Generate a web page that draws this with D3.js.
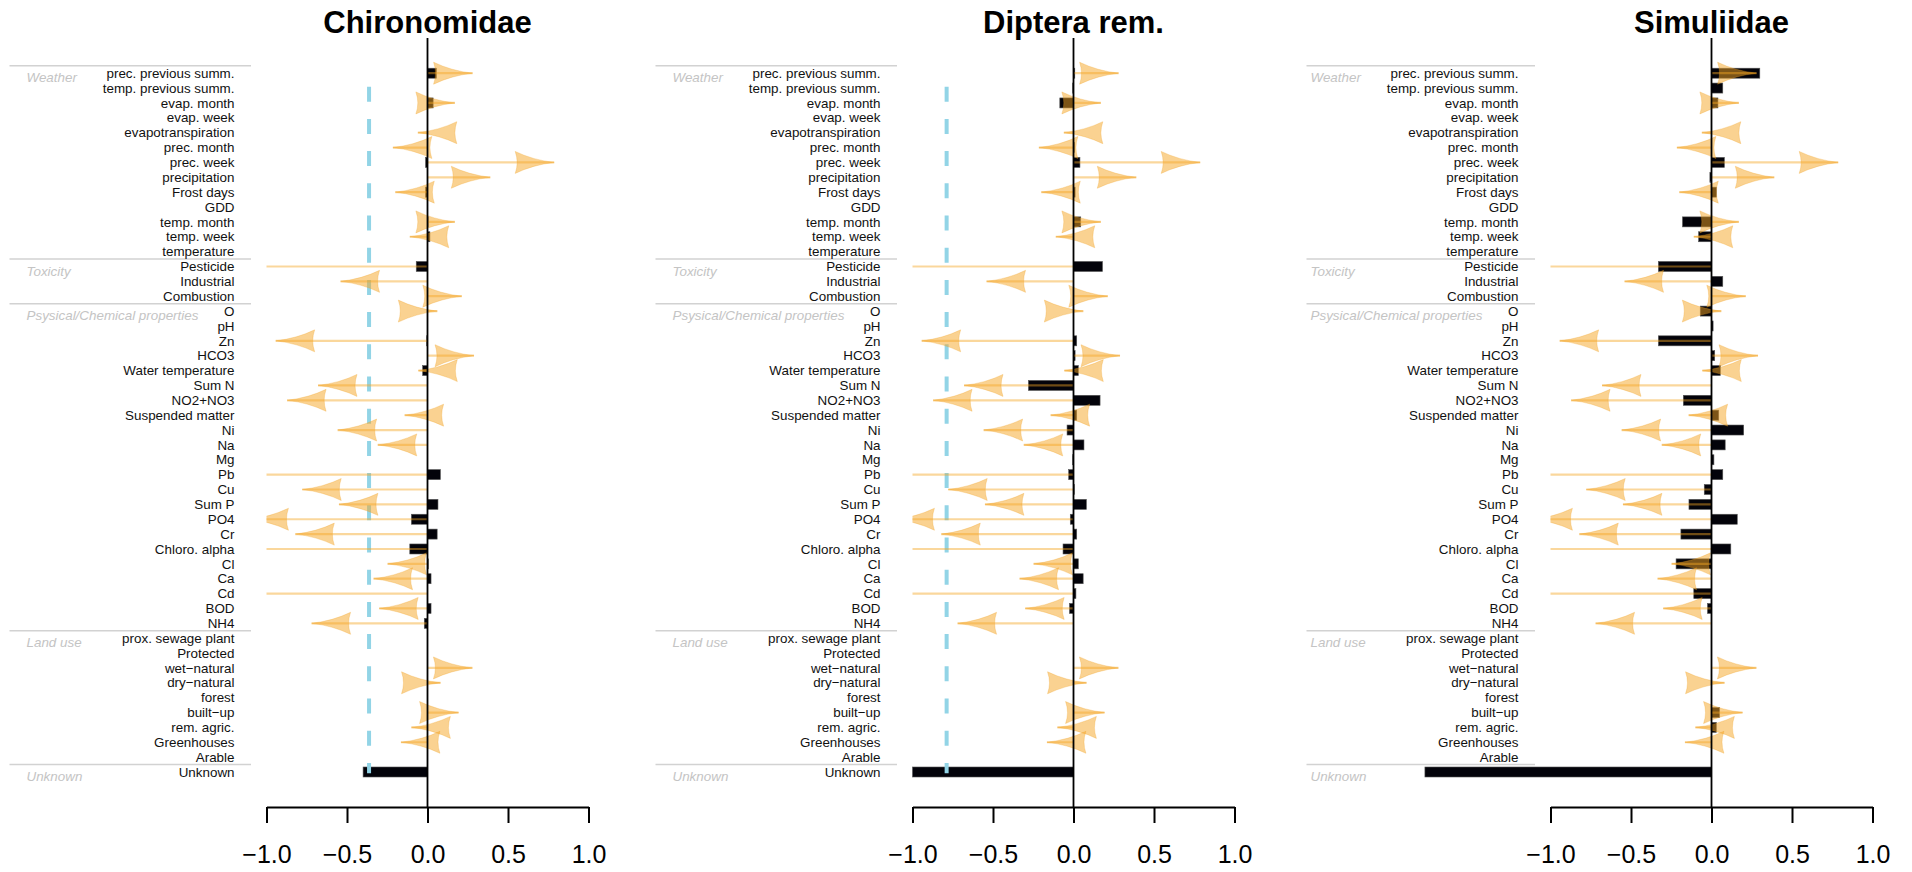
<!DOCTYPE html>
<html>
<head>
<meta charset="utf-8">
<script src="https://cdn.jsdelivr.net/npm/d3@7"></script>
<style>
  body { margin: 0; background: #fff; }
  svg { display: block; font-family: "Liberation Sans", Arial, sans-serif; }
</style>
</head>
<body>
<script>
const width = 1912
const height = 872

// row labels, top to bottom
const rowLabels = [
  "prec. previous summ.", "temp. previous summ.", "evap. month", "evap. week", "evapotranspiration",
  "prec. month", "prec. week", "precipitation", "Frost days", "GDD", "temp. month", "temp. week", "temperature",
  "Pesticide", "Industrial", "Combustion",
  "O", "pH", "Zn", "HCO3", "Water temperature", "Sum N", "NO2+NO3", "Suspended matter", "Ni", "Na", "Mg",
  "Pb", "Cu", "Sum P", "PO4", "Cr", "Chloro. alpha", "Cl", "Ca", "Cd", "BOD", "NH4",
  "prox. sewage plant", "Protected", "wet\u2212natural", "dry\u2212natural", "forest", "built\u2212up",
  "rem. agric.", "Greenhouses", "Arable",
  "Unknown"
]
const groupNames = ["Weather", "Toxicity", "Psysical/Chemical properties", "Land use", "Unknown"]
const groupStarts = [0, 13, 16, 38, 47]

// orange arrows (same in every panel), null = no arrow
const arrowValues = [
  0.28, null, 0.17, null, -0.06, -0.215, 0.787, 0.39, -0.2, null, 0.17, -0.11, null,
  -1.5, -0.54, 0.213,
  0.061, null, -0.943, 0.289, -0.057, -0.68, -0.872, -0.142, -0.558, -0.309, null,
  -1.5, -0.778, -0.55, -1.106, -0.821, -1.5, -0.248, -0.335, -1.5, -0.30, -0.72,
  null, null, 0.279, 0.081, null, 0.193, -0.10, -0.165, null,
  null
]

const taxa = ["Chironomidae", "Diptera rem.", "Simuliidae"]
const chironomidae = [
  0.055, 0, 0.035, 0, 0, 0, -0.012, 0, -0.012, 0, 0.004, 0.015, 0,
  -0.07, 0, 0,
  0, 0, -0.005, 0, -0.03, 0, 0, 0, 0, 0, 0,
  0.08, 0, 0.065, -0.10, 0.06, -0.11, 0.005, 0.022, 0, 0.022, -0.02,
  0, 0, 0, 0, 0, 0, 0, 0, 0,
  -0.40
]
const dipteraRem = [
  0.008, -0.005, -0.085, 0, 0, 0.005, 0.04, 0, 0.01, 0, 0.045, 0, 0,
  0.18, 0, 0,
  0, 0, 0.02, 0.01, 0.03, -0.28, 0.165, 0.02, -0.04, 0.065, -0.005,
  -0.03, 0.005, 0.08, -0.02, 0.02, -0.065, 0.03, 0.06, 0.015, -0.025, 0,
  0, 0, 0, 0, 0, 0, 0, 0, 0,
  -1.0
]
const simuliidae = [
  0.30, 0.07, 0.04, 0, 0, 0, 0.08, -0.01, 0.03, 0, -0.18, -0.08, 0,
  -0.33, 0.07, 0,
  -0.07, 0.01, -0.33, 0.02, 0.055, 0, -0.175, 0.045, 0.20, 0.085, 0.015,
  0.07, -0.045, -0.14, 0.16, -0.19, 0.12, -0.22, 0, -0.11, -0.025, 0,
  0, 0, 0, 0, 0, 0.05, 0.03, 0, 0,
  -1.78
]
const thresholds = [-0.363, -0.788, null]
const xTicks = [-1, -0.5, 0, 0.5, 1]

const series = [chironomidae, dipteraRem, simuliidae]

// layout
const zeroX = [427.5, 1073.5, 1711.5]
const unit = 161
const sepLeft = [-418, -418, -405]
const rowTop = 73.2, rowBottom = 772
const axisY = 807
const headLen = 39, headHalf = 11

const y = d3.scalePoint().domain(rowLabels).range([rowTop, rowBottom])
const step = y.step()

const svg = d3.select("body").append("svg")
    .attr("viewBox", [0, 0, width, height])
    .attr("width", width)
    .attr("height", height)

function headPath(tip, dir, cy) {
  const b = tip - dir * headLen
  return `M${tip},${cy}` +
    `Q${tip - dir * headLen * 0.55},${cy - headHalf * 0.22} ${b},${cy - headHalf}` +
    `Q${tip - dir * headLen * 0.9},${cy} ${b},${cy + headHalf}` +
    `Q${tip - dir * headLen * 0.55},${cy + headHalf * 0.22} ${tip},${cy}Z`
}

taxa.forEach((name, p) => {
  const x0 = zeroX[p]
  const x = d3.scaleLinear().domain([-1, 1]).range([x0 - unit, x0 + unit])
  const values = series[p]
  const g = svg.append("g")

  // title
  g.append("text")
      .attr("x", x(0))
      .attr("y", 33)
      .attr("text-anchor", "middle")
      .attr("font-size", 31)
      .attr("font-weight", "bold")
      .text(name)

  // group separators and names
  g.append("g").selectAll("line")
    .data(groupStarts)
    .join("line")
      .attr("x1", x0 + sepLeft[p])
      .attr("x2", x0 - 176.5)
      .attr("y1", i => y(rowLabels[i]) - step / 2)
      .attr("y2", i => y(rowLabels[i]) - step / 2)
      .attr("stroke", "#d2d2d2")
      .attr("stroke-width", 1.5)

  g.append("g").selectAll("text")
    .data(groupStarts)
    .join("text")
      .attr("x", x0 - 401)
      .attr("y", i => y(rowLabels[i]) + 4.6)
      .attr("dy", "0.35em")
      .attr("font-size", 13.4)
      .attr("font-style", "italic")
      .attr("fill", "#c4c4c4")
      .text((d, i) => groupNames[i])

  // row labels
  g.append("g").selectAll("text")
    .data(rowLabels)
    .join("text")
      .attr("x", x0 - 193)
      .attr("y", d => y(d))
      .attr("dy", "0.35em")
      .attr("text-anchor", "end")
      .attr("font-size", 13.4)
      .attr("fill", "#111")
      .text(d => d)

  // bars
  g.append("g").selectAll("rect")
    .data(values.map((v, i) => ({v, label: rowLabels[i]})).filter(d => d.v !== 0))
    .join("rect")
      .attr("x", d => Math.min(x(0), x(d.v)))
      .attr("width", d => Math.abs(x(d.v) - x(0)))
      .attr("y", d => y(d.label) - 5)
      .attr("height", 10)
      .attr("fill", "#03030a")
      .attr("stroke", "#555")
      .attr("stroke-width", 0.6)

  // threshold
  if (thresholds[p] !== null) {
    g.append("line")
        .attr("x1", x(thresholds[p]))
        .attr("x2", x(thresholds[p]))
        .attr("y1", 86.7)
        .attr("y2", 773.3)
        .attr("stroke", "#92d4e6")
        .attr("stroke-width", 4)
        .attr("stroke-dasharray", "15 17.2")
  }

  // arrows, clipped to the axis range
  const clipId = "clip" + p
  svg.append("clipPath").attr("id", clipId)
    .append("rect")
      .attr("x", x(-1)).attr("y", 0)
      .attr("width", x(1) - x(-1)).attr("height", height)

  const arrows = values.map((v, i) => ({a: arrowValues[i], label: rowLabels[i]})).filter(d => d.a !== null)
  const ga = g.append("g").attr("clip-path", `url(#${clipId})`)
  ga.selectAll("line")
    .data(arrows)
    .join("line")
      .attr("x1", x(0))
      .attr("x2", d => x(d.a))
      .attr("y1", d => y(d.label))
      .attr("y2", d => y(d.label))
      .attr("stroke", "#f5a623")
      .attr("stroke-opacity", 0.45)
      .attr("stroke-width", 2.2)
  ga.selectAll("path")
    .data(arrows)
    .join("path")
      .attr("d", d => headPath(x(d.a), d.a >= 0 ? 1 : -1, y(d.label)))
      .attr("fill", "#f5a623")
      .attr("fill-opacity", 0.5)
      .attr("stroke", "#f0a020")
      .attr("stroke-opacity", 0.35)
      .attr("stroke-width", 0.8)

  // zero line
  g.append("line")
      .attr("x1", x(0)).attr("x2", x(0))
      .attr("y1", 38).attr("y2", axisY)
      .attr("stroke", "#000")
      .attr("stroke-width", 1.8)

  // bottom axis
  const axis = g.append("g")
      .attr("transform", `translate(0,${axisY})`)
      .call(d3.axisBottom(x).tickValues(xTicks).tickFormat(d3.format(".1f"))
        .tickSize(16).tickSizeOuter(0).tickPadding(22))
  axis.select(".domain").attr("stroke-width", 2)
  axis.selectAll(".tick line").attr("stroke-width", 2)
  axis.selectAll(".tick text")
      .attr("font-size", 25)
      .attr("font-family", "\"Liberation Sans\", Arial, sans-serif")
      .attr("fill", "#000")
})
</script>
</body>
</html>
